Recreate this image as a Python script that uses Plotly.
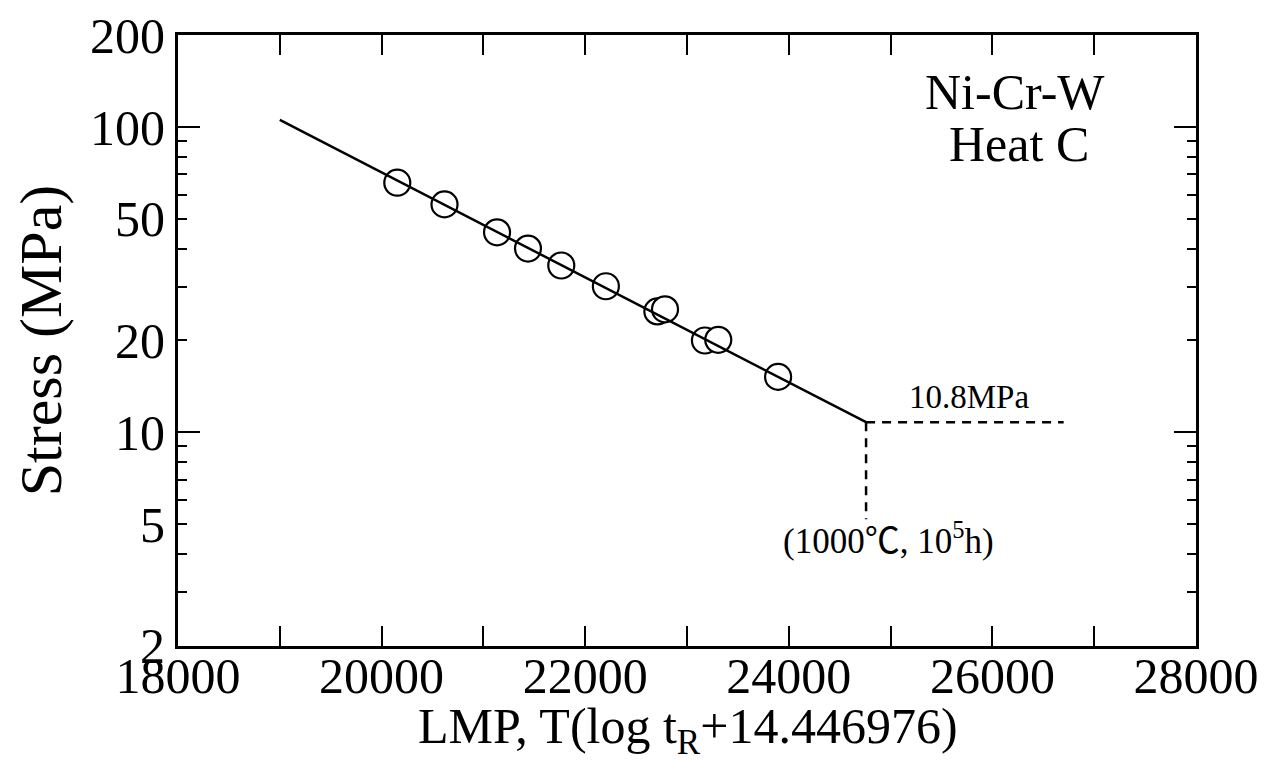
import plotly.graph_objects as go

# Data
lmp = [20154, 20618, 21134, 21438, 21765, 22203, 22709, 22784, 23176, 23307, 23895]
stress = [65.7, 55.8, 45.2, 40.0, 35.2, 30.1, 24.9, 25.3, 20.0, 20.1, 15.2]

fit_lmp = [19000, 24759]
fit_stress = [105.5, 10.8]

hline_lmp = [24759, 26700]
hline_stress = [10.8, 10.8]
vline_lmp = [24759, 24759]
vline_stress = [10.8, 5.2]

y_label_vals = [2, 5, 10, 20, 50, 100, 200]
y_minor_vals = [3, 4, 6, 7, 8, 9, 30, 40, 60, 70, 80, 90]
y_major_vals = [10, 100]
x_label_vals = [18000, 20000, 22000, 24000, 26000, 28000]
x_minor_vals = [19000, 21000, 23000, 25000, 27000]

FONT = "Liberation Serif, Times New Roman, serif"
FONT_CJK = "Liberation Serif, 'Noto Sans CJK JP', serif"

fig = go.Figure()

fig.add_trace(go.Scatter(x=fit_lmp, y=fit_stress, mode="lines",
                         line=dict(color="black", width=2.5), yaxis="y2",
                         showlegend=False, hoverinfo="skip"))
fig.add_trace(go.Scatter(x=hline_lmp, y=hline_stress, mode="lines",
                         line=dict(color="black", width=2.5, dash="9px,7px"),
                         showlegend=False, hoverinfo="skip"))
fig.add_trace(go.Scatter(x=vline_lmp, y=vline_stress, mode="lines",
                         line=dict(color="black", width=2.5, dash="9px,7px"),
                         showlegend=False, hoverinfo="skip"))
fig.add_trace(go.Scatter(x=lmp, y=stress, mode="markers",
                         marker=dict(symbol="circle", size=26, color="white",
                                     line=dict(color="black", width=2.2)),
                         showlegend=False))

yr = [0.3008, 2.3012]

fig.update_layout(
    width=1270, height=760,
    margin=dict(l=170, r=82, t=27, b=122),
    paper_bgcolor="white", plot_bgcolor="white",
    font=dict(family=FONT, color="black"),
    xaxis=dict(
        range=[18000, 28000], tickvals=x_label_vals,
        ticktext=[str(v) for v in x_label_vals],
        ticks="inside", ticklen=20, tickwidth=2, tickcolor="black",
        minor=dict(tickvals=x_minor_vals, ticks="inside", ticklen=20,
                   tickwidth=2, tickcolor="black"),
        showline=True, linewidth=3, linecolor="black", mirror="ticks",
        showgrid=False, zeroline=False, automargin=False,
        tickfont=dict(size=50, family=FONT), ticklabelstandoff=-16,
        ticklabeloverflow="allow",
    ),
    yaxis=dict(
        type="log", range=yr, tickvals=y_label_vals,
        ticktext=[str(v) for v in y_label_vals],
        ticks="inside", ticklen=9, tickwidth=2, tickcolor="black",
        minor=dict(tickvals=y_minor_vals, ticks="inside", ticklen=9,
                   tickwidth=2, tickcolor="black"),
        showline=True, linewidth=3, linecolor="black", mirror="ticks",
        showgrid=False, zeroline=False, automargin=False,
        tickfont=dict(size=50, family=FONT), ticklabeloverflow="allow",
        title=dict(text="Stress (MPa)", font=dict(size=60, family=FONT),
                   standoff=14),
    ),
    yaxis2=dict(
        type="log", range=yr, overlaying="y", side="left",
        tickvals=y_major_vals, ticks="inside", ticklen=22, tickwidth=2,
        tickcolor="black", showticklabels=False, showline=False,
        mirror="ticks", showgrid=False, zeroline=False, automargin=False,
    ),
    annotations=[
        dict(text="LMP, T(log t<sub>R</sub>+14.446976)", xref="paper", yref="paper",
             x=0.501, y=-0.082, xanchor="center", yanchor="top",
             showarrow=False, font=dict(size=50, family=FONT)),
        dict(text="Ni-Cr-W", xref="paper", yref="paper",
             x=0.822, y=0.906, xanchor="center", yanchor="middle",
             showarrow=False, font=dict(size=50, family=FONT)),
        dict(text="Heat C", xref="paper", yref="paper",
             x=0.826, y=0.822, xanchor="center", yanchor="middle",
             showarrow=False, font=dict(size=50, family=FONT)),
        dict(text="10.8MPa", xref="x", yref="y", x=25775, y=1.0334,
             xanchor="center", yanchor="bottom", yshift=5,
             showarrow=False, font=dict(size=33, family=FONT)),
        dict(text="(1000℃, 10<sup>5</sup>h)", xref="paper", yref="paper",
             x=0.698, y=0.176, xanchor="center", yanchor="middle",
             showarrow=False, font=dict(size=35, family=FONT_CJK)),
    ],
)

fig.write_html("out.html")
